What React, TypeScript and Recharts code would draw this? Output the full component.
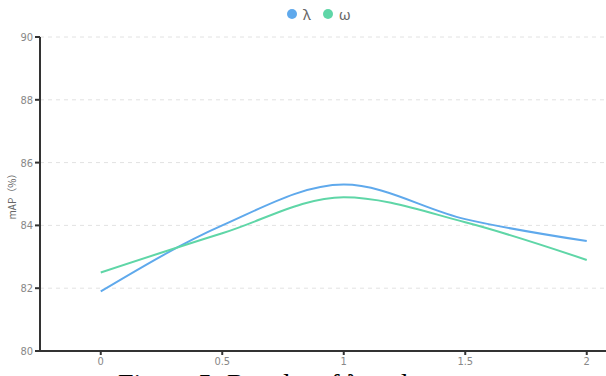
import { LineChart, Line, XAxis, YAxis, CartesianGrid } from 'recharts';

const categories = ['0', '0.5', '1', '1.5', '2'];
const lambdaValues = [81.9, 84.0, 85.3, 84.2, 83.5];
const omegaValues = [82.5, 83.75, 84.9, 84.1, 82.9];
const yTicks = [80, 82, 84, 86, 88, 90];

const series = [
  { key: 'lambda', name: 'λ', color: '#5fa9ec' },
  { key: 'omega', name: 'ω', color: '#5fd6a7' },
];

const data = categories.map((c, i) => ({
  x: c,
  lambda: lambdaValues[i],
  omega: omegaValues[i],
}));

const tickFont = "'Liberation Sans Narrow', 'DejaVu Sans Condensed', sans-serif";

const App = () => {
  return (
    <div
      style={{
        position: 'fixed',
        left: 0,
        top: 0,
        width: 606,
        height: 376,
        overflow: 'hidden',
        background: '#fff',
      }}
    >
      {/* legend */}
      <div
        style={{
          position: 'absolute',
          top: 4,
          left: 287,
          display: 'flex',
          fontFamily: "'Noto Sans', sans-serif",
          fontSize: 15,
          color: '#666',
          lineHeight: '20px',
        }}
      >
        {series.map((s) => (
          <div key={s.key} style={{ display: 'flex', alignItems: 'center', marginRight: 12 }}>
            <span
              style={{
                width: 10,
                height: 10,
                borderRadius: 5,
                background: s.color,
                display: 'inline-block',
                marginRight: 6,
              }}
            />
            {s.name}
          </div>
        ))}
      </div>

      <LineChart
        width={660}
        height={376}
        data={data}
        margin={{ top: 37, right: 12.5, bottom: 0, left: 0 }}
      >
        <CartesianGrid
          vertical={false}
          stroke='#e2e2e2'
          strokeDasharray='4 4'
          horizontalValues={[82, 84, 86, 88, 90]}
        />
        <XAxis
          dataKey='x'
          height={25}
          stroke='#333'
          strokeWidth={2}
          tickSize={4}
          padding={{ left: 60.75, right: 60.75 }}
          tick={{ fill: '#888', fontSize: 11, fontFamily: tickFont }}
          interval={0}
        />
        <YAxis
          width={40}
          domain={[80, 90]}
          ticks={yTicks}
          stroke='#333'
          strokeWidth={2}
          tickSize={5}
          tick={{ fill: '#888', fontSize: 11, fontFamily: tickFont }}
          label={{
            value: 'mAP（%）',
            angle: -90,
            position: 'center',
            dx: -8,
            fill: '#666',
            fontSize: 10,
            fontFamily: "'Noto Sans CJK SC', sans-serif",
          }}
        />
        {series.map((s) => (
          <Line
            key={s.key}
            type='monotone'
            dataKey={s.key}
            name={s.name}
            stroke={s.color}
            strokeWidth={2}
            dot={false}
            isAnimationActive={false}
          />
        ))}
      </LineChart>

      {/* caption, cut off by the bottom edge */}
      <div
        style={{
          position: 'absolute',
          top: 370,
          left: 118,
          fontFamily: "'Liberation Serif', serif",
          fontSize: 28,
          lineHeight: '28px',
          color: '#000',
          whiteSpace: 'nowrap',
        }}
      >
        Figure 5: Results of λ and ω
      </div>
    </div>
  );
};

export default App;
